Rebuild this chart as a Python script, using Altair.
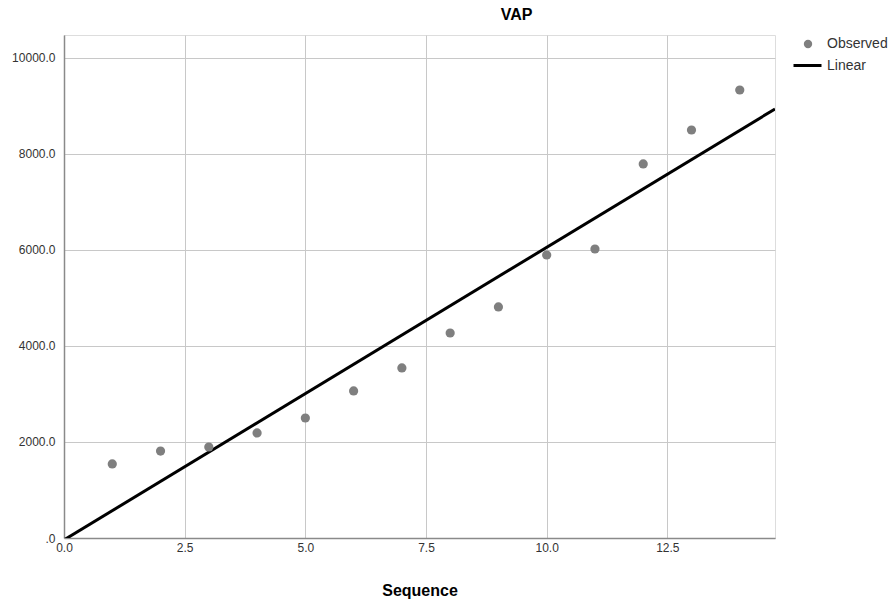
import altair as alt
import pandas as pd

sequence = [1, 2, 3, 4, 5, 6, 7, 8, 9, 10, 11, 12, 13, 14]
vap = [1542, 1812, 1896, 2188, 2500, 3063, 3542, 4271, 4813, 5896, 6021, 7792, 8500, 9333]

# Linear fit line endpoints
linear_x = [0.0, 14.73]
linear_y = [-40, 8938]

x_ticks = [0, 2.5, 5, 7.5, 10, 12.5]
y_ticks = [0, 2000, 4000, 6000, 8000, 10000]

obs = pd.DataFrame({"Sequence": sequence, "VAP": vap, "s": ["Observed"] * len(sequence)})
lin = pd.DataFrame({"Sequence": linear_x, "VAP": linear_y, "m": ["Linear"] * len(linear_x)})

FONT = "Liberation Sans"

x_enc = alt.X(
    "Sequence:Q",
    scale=alt.Scale(domain=[0, 14.73], nice=False, zero=False),
    axis=alt.Axis(
        values=x_ticks,
        format=".1f",
        title="Sequence",
        titleFontSize=16,
        titleFontWeight="bold",
        titleFont=FONT,
        titleColor="#000000",
        titlePadding=29,
        labelFont=FONT,
        labelFontSize=12,
        labelColor="#333333",
        labelPadding=4,
        ticks=False,
        grid=True,
        gridColor="#c8c8c8",
        gridWidth=1,
        domainColor="#8a8a8a",
        domainWidth=1.5,
        labelFlush=False,
    ),
)
y_enc = alt.Y(
    "VAP:Q",
    scale=alt.Scale(domain=[0, 10479], nice=False, zero=False),
    axis=alt.Axis(
        values=y_ticks,
        labelExpr="datum.value == 0 ? '.0' : format(datum.value, '.1f')",
        title=None,
        labelFont=FONT,
        labelFontSize=12,
        labelColor="#333333",
        labelPadding=9,
        ticks=False,
        grid=True,
        gridColor="#c8c8c8",
        gridWidth=1,
        domainColor="#8a8a8a",
        domainWidth=1.5,
        labelFlush=False,
    ),
)

points = alt.Chart(obs).mark_circle(size=85, opacity=1).encode(
    x=x_enc,
    y=y_enc,
    fill=alt.Fill(
        "s:N",
        scale=alt.Scale(domain=["Observed"], range=["#7f7f7f"]),
        legend=alt.Legend(
            title=None,
            orient="none",
            legendX=737,
            legendY=2,
            symbolType="circle",
            symbolSize=70,
            labelFont=FONT,
            labelFontSize=14,
            labelColor="#333333",
            labelOffset=12,
        ),
    ),
)

line = alt.Chart(lin).mark_line(strokeWidth=3, clip=True).encode(
    x="Sequence:Q",
    y="VAP:Q",
    stroke=alt.Stroke(
        "m:N",
        scale=alt.Scale(domain=["Linear"], range=["#000000"]),
        legend=alt.Legend(
            title=None,
            orient="none",
            legendX=728,
            legendY=15,
            symbolType="stroke",
            symbolSize=784,
            symbolStrokeWidth=3,
            labelFont=FONT,
            labelFontSize=14,
            labelColor="#333333",
            labelOffset=4,
        ),
    ),
)

chart = (
    alt.layer(line, points)
    .resolve_scale(fill="independent", stroke="independent")
    .properties(
        width=711,
        height=503,
        title=alt.TitleParams(
            "VAP",
            font=FONT,
            fontSize=16,
            fontWeight="bold",
            color="#000000",
            anchor="middle",
            dx=97,
            offset=12,
        ),
        autosize=alt.AutoSizeParams(type="none"),
        padding={"left": 64, "top": 35, "right": 119, "bottom": 62},
    )
    .configure_view(stroke=None)
    .configure(background="#ffffff")
)

chart.save("out.html", embed_options={"renderer": "svg", "actions": False})
